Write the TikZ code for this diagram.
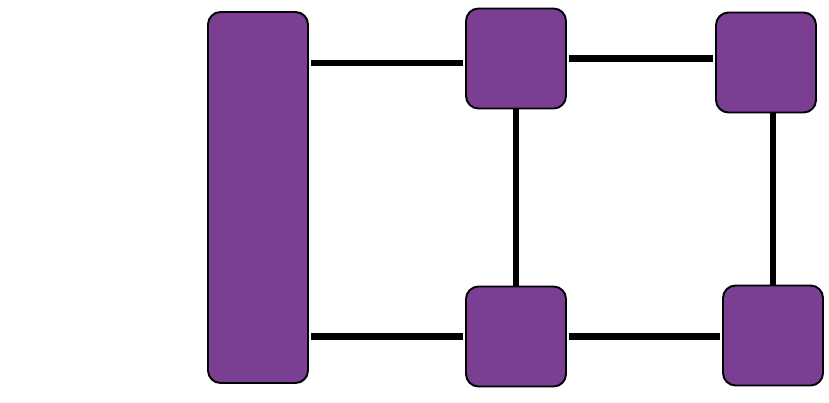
\documentclass[tikz,border=0pt]{standalone}
\usepackage{tikz}
\usetikzlibrary{positioning}
\usepackage{xcolor}
\definecolor{cellpurple}{RGB}{122,62,146}
\tikzstyle{link} = [line width=3.7pt,color=black,shorten <=0.04cm,shorten >=0.04cm]
\tikzstyle{cellbox} = [rectangle, rounded corners=0.25cm, minimum width=2cm, minimum height=2cm, draw=black, fill=cellpurple, line width=1.1pt, inner sep=0pt]
\tikzstyle{railbox} = [rectangle, rounded corners=0.25cm, minimum width=2cm, minimum height=7.42cm, draw=black, fill=cellpurple, line width=1.1pt, inner sep=0pt]

\begin{document}
\begin{tikzpicture}
\useasboundingbox (0,0) rectangle (16.58,-8.06);

% Rail
\node[railbox] (rail) at (5.16,-3.95) {};

% Top row
\node[cellbox] (topleft) at (10.32,-1.17) {};
\node[cellbox] (topright) at (15.32,-1.25) {};

% Bottom row
\node[cellbox] (botleft) at (10.32,-6.73) {};
\node[cellbox] (botright) at (15.46,-6.71) {};

\draw[link] ([yshift=-0.09cm]topleft.west) -- ([yshift=-0.09cm]topleft.west -| rail.east);
\draw[link] (botleft.west) -- (botleft.west -| rail.east);
\draw[link] (topleft.east) -- (topleft.east -| topright.west);
\draw[link] (botleft.east) -- (botleft.east -| botright.west);
\draw[link,shorten <=0pt,shorten >=0pt] (topleft.south) -- (botleft.north);
\draw[link,shorten <=0pt,shorten >=0pt] ([xshift=0.14cm]topright.south) -- ([xshift=0.14cm]topright.south |- botright.north);
\end{tikzpicture}
\end{document}
